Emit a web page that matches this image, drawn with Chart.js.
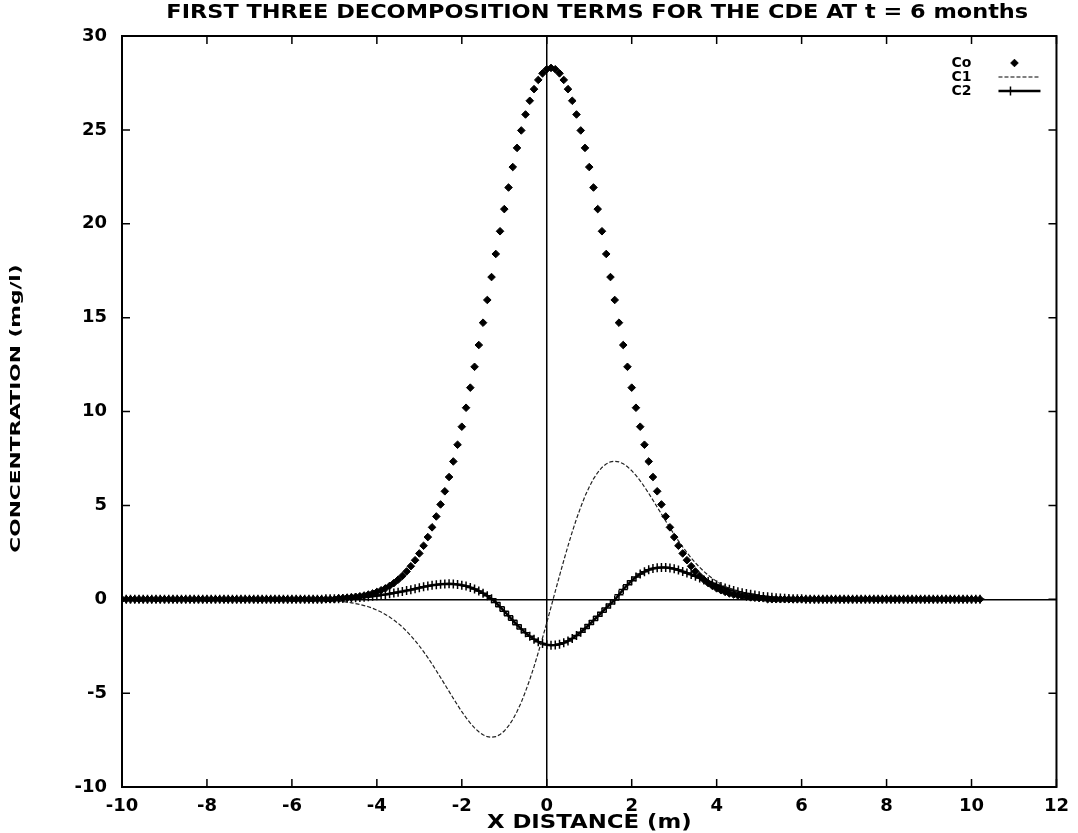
<!DOCTYPE html>
<html>
<head>
<meta charset="utf-8">
<script src="https://cdn.jsdelivr.net/npm/chart.js@4.4.0/dist/chart.umd.min.js"></script>
<style>
  html, body { margin: 0; padding: 0; background: #fff; }
</style>
</head>
<body>
<canvas id="grafico" width="1078" height="833"></canvas>
<script>
const ctxGrafico = document.getElementById("grafico");

// ===================================================================
// DADOS
// ===================================================================

const titulo = "FIRST THREE DECOMPOSITION TERMS FOR THE CDE AT t = 6 months";
const tituloX = "X DISTANCE (m)";
const tituloY = "CONCENTRATION (mg/l)";
const nomesSeries = ["Co", "C1", "C2"];

const ticksX = [-10, -8, -6, -4, -2, 0, 2, 4, 6, 8, 10, 12];
const ticksY = [-10, -5, 0, 5, 10, 15, 20, 25, 30];

const xDistancia = [
  -10, -9.9, -9.8, -9.7, -9.6, -9.5, -9.4, -9.3, -9.2, -9.1,
  -9, -8.9, -8.8, -8.7, -8.6, -8.5, -8.4, -8.3, -8.2, -8.1,
  -8, -7.9, -7.8, -7.7, -7.6, -7.5, -7.4, -7.3, -7.2, -7.1,
  -7, -6.9, -6.8, -6.7, -6.6, -6.5, -6.4, -6.3, -6.2, -6.1,
  -6, -5.9, -5.8, -5.7, -5.6, -5.5, -5.4, -5.3, -5.2, -5.1,
  -5, -4.9, -4.8, -4.7, -4.6, -4.5, -4.4, -4.3, -4.2, -4.1,
  -4, -3.9, -3.8, -3.7, -3.6, -3.5, -3.4, -3.3, -3.2, -3.1,
  -3, -2.9, -2.8, -2.7, -2.6, -2.5, -2.4, -2.3, -2.2, -2.1,
  -2, -1.9, -1.8, -1.7, -1.6, -1.5, -1.4, -1.3, -1.2, -1.1,
  -1, -0.9, -0.8, -0.7, -0.6, -0.5, -0.4, -0.3, -0.2, -0.1,
  0, 0.1, 0.2, 0.3, 0.4, 0.5, 0.6, 0.7, 0.8, 0.9,
  1, 1.1, 1.2, 1.3, 1.4, 1.5, 1.6, 1.7, 1.8, 1.9,
  2, 2.1, 2.2, 2.3, 2.4, 2.5, 2.6, 2.7, 2.8, 2.9,
  3, 3.1, 3.2, 3.3, 3.4, 3.5, 3.6, 3.7, 3.8, 3.9,
  4, 4.1, 4.2, 4.3, 4.4, 4.5, 4.6, 4.7, 4.8, 4.9,
  5, 5.1, 5.2, 5.3, 5.4, 5.5, 5.6, 5.7, 5.8, 5.9,
  6, 6.1, 6.2, 6.3, 6.4, 6.5, 6.6, 6.7, 6.8, 6.9,
  7, 7.1, 7.2, 7.3, 7.4, 7.5, 7.6, 7.7, 7.8, 7.9,
  8, 8.1, 8.2, 8.3, 8.4, 8.5, 8.6, 8.7, 8.8, 8.9,
  9, 9.1, 9.2, 9.3, 9.4, 9.5, 9.6, 9.7, 9.8, 9.9,
  10, 10.1, 10.2,
];

const valoresCo = [
  0, 0, 0, 0, 0, 0, 0, 0, 0, 0,
  0, 0, 0, 0, 0, 0, 0, 0, 0, 0,
  0, 0, 0, 0, 0, 0, 0, 0, 0, 0,
  0, 0, 0, 0, 0, 0, 0, 0, 0, 0,
  0, 0, 0, 0, 0, 0, 0, 0, 0, 0,
  0, 0.05, 0.06, 0.08, 0.10, 0.13, 0.16, 0.20, 0.25, 0.31,
  0.39, 0.48, 0.58, 0.71, 0.86, 1.04, 1.24, 1.48, 1.76, 2.08,
  2.44, 2.85, 3.31, 3.83, 4.41, 5.05, 5.75, 6.51, 7.34, 8.23,
  9.19, 10.20, 11.27, 12.38, 13.54, 14.73, 15.94, 17.16, 18.39, 19.60,
  20.78, 21.93, 23.02, 24.04, 24.97, 25.82, 26.55, 27.17, 27.66, 28.01,
  28.23, 28.30, 28.23, 28.01, 27.66, 27.17, 26.55, 25.82, 24.97, 24.04,
  23.02, 21.93, 20.78, 19.60, 18.39, 17.16, 15.94, 14.73, 13.54, 12.38,
  11.27, 10.20, 9.19, 8.23, 7.34, 6.51, 5.75, 5.05, 4.41, 3.83,
  3.31, 2.85, 2.44, 2.08, 1.76, 1.48, 1.24, 1.04, 0.86, 0.71,
  0.58, 0.48, 0.39, 0.31, 0.25, 0.20, 0.16, 0.13, 0.10, 0.08,
  0.06, 0.05, 0, 0, 0, 0, 0, 0, 0, 0,
  0, 0, 0, 0, 0, 0, 0, 0, 0, 0,
  0, 0, 0, 0, 0, 0, 0, 0, 0, 0,
  0, 0, 0, 0, 0, 0, 0, 0, 0, 0,
  0, 0, 0, 0, 0, 0, 0, 0, 0, 0,
  0, 0, 0,
];

const valoresC1 = [
  0, 0, 0, 0, 0, 0, 0, 0, 0, 0,
  0, 0, 0, 0, 0, 0, 0, 0, 0, 0,
  0, 0, 0, 0, 0, 0, 0, 0, 0, 0,
  0, 0, 0, 0, 0, 0, 0, 0, 0, 0,
  0, 0, 0, 0, 0, 0, 0, 0, 0, 0,
  -0.08, -0.10, -0.12, -0.15, -0.19, -0.23, -0.28, -0.34, -0.40, -0.48,
  -0.58, -0.68, -0.81, -0.95, -1.11, -1.28, -1.48, -1.70, -1.94, -2.20,
  -2.49, -2.79, -3.11, -3.45, -3.81, -4.17, -4.54, -4.91, -5.28, -5.64,
  -5.99, -6.31, -6.60, -6.85, -7.06, -7.22, -7.32, -7.35, -7.32, -7.21,
  -7.02, -6.75, -6.41, -5.98, -5.49, -4.91, -4.28, -3.59, -2.84, -2.06,
  -1.25, -0.42, 0.42, 1.25, 2.06, 2.84, 3.59, 4.28, 4.91, 5.49,
  5.98, 6.41, 6.75, 7.02, 7.21, 7.32, 7.35, 7.32, 7.22, 7.06,
  6.85, 6.60, 6.31, 5.99, 5.64, 5.28, 4.91, 4.54, 4.17, 3.81,
  3.45, 3.11, 2.79, 2.49, 2.20, 1.94, 1.70, 1.48, 1.28, 1.11,
  0.95, 0.81, 0.68, 0.58, 0.48, 0.40, 0.34, 0.28, 0.23, 0.19,
  0.15, 0.12, 0.10, 0.08, 0, 0, 0, 0, 0, 0,
  0, 0, 0, 0, 0, 0, 0, 0, 0, 0,
  0, 0, 0, 0, 0, 0, 0, 0, 0, 0,
  0, 0, 0, 0, 0, 0, 0, 0, 0, 0,
  0, 0, 0, 0, 0, 0, 0, 0, 0, 0,
  0, 0, 0,
];

const valoresC2 = [
  0, 0, 0, 0, 0, 0, 0, 0, 0, 0,
  0, 0, 0, 0, 0, 0, 0, 0, 0, 0,
  0, 0, 0, 0, 0, 0, 0, 0, 0, 0,
  0, 0, 0, 0, 0, 0, 0, 0, 0, 0,
  0, 0, 0, 0, 0, 0, 0, 0, 0.02, 0.02,
  0.03, 0.03, 0.04, 0.05, 0.06, 0.08, 0.09, 0.11, 0.13, 0.16,
  0.19, 0.22, 0.25, 0.29, 0.33, 0.37, 0.41, 0.46, 0.51, 0.56,
  0.61, 0.66, 0.70, 0.74, 0.77, 0.80, 0.81, 0.82, 0.81, 0.79,
  0.75, 0.70, 0.63, 0.54, 0.44, 0.32, 0.18, 0.03, -0.17, -0.40,
  -0.64, -0.88, -1.12, -1.36, -1.58, -1.79, -1.97, -2.13, -2.26, -2.36,
  -2.42, -2.45, -2.44, -2.40, -2.32, -2.22, -2.09, -1.93, -1.76, -1.56,
  -1.35, -1.13, -0.91, -0.69, -0.46, -0.25, -0.04, 0.24, 0.52, 0.77,
  0.99, 1.18, 1.34, 1.47, 1.57, 1.64, 1.68, 1.69, 1.69, 1.66,
  1.62, 1.56, 1.48, 1.40, 1.32, 1.22, 1.13, 1.03, 0.94, 0.85,
  0.76, 0.68, 0.60, 0.53, 0.46, 0.40, 0.35, 0.30, 0.26, 0.22,
  0.18, 0.15, 0.13, 0.10, 0.08, 0.07, 0.05, 0.04, 0.03, 0.02,
  0.02, 0, 0, 0, 0, 0, 0, 0, 0, 0,
  0, 0, 0, 0, 0, 0, 0, 0, 0, 0,
  0, 0, 0, 0, 0, 0, 0, 0, 0, 0,
  0, 0, 0, 0, 0, 0, 0, 0, 0, 0,
  0, 0, 0,
];

// ===================================================================
// FUNÇÕES
// ===================================================================

const fonte = "DejaVu Sans";

function montarPontos(valores) {
  return xDistancia.map((x, i) => ({ x: x, y: valores[i] }));
}

function corZero(c) {
  return c.tick && c.tick.value === 0 ? "#000" : "rgba(0,0,0,0)";
}

// a fonte do gnuplot é mais larga que a DejaVu: estica na horizontal
function textoLargo(ctx, texto, x, y, angulo, esticar) {
  ctx.save();
  ctx.translate(x, y);
  ctx.rotate(angulo);
  ctx.scale(esticar, 1);
  ctx.fillText(texto, 0, 0);
  ctx.restore();
}

// moldura, marcas internas, títulos e legenda no estilo gnuplot
const pluginMoldura = {
  id: "moldura",
  afterDatasetsDraw(chart) {
    const { ctx, chartArea: a, scales } = chart;
    ctx.save();
    ctx.strokeStyle = "#000";
    ctx.lineWidth = 2;
    ctx.strokeRect(a.left, a.top, a.right - a.left, a.bottom - a.top);

    ctx.lineWidth = 1.5;
    ctx.beginPath();
    ticksX.forEach((v) => {
      const px = scales.x.getPixelForValue(v);
      ctx.moveTo(px, a.bottom);
      ctx.lineTo(px, a.bottom - 8);
      ctx.moveTo(px, a.top);
      ctx.lineTo(px, a.top + 8);
    });
    ticksY.forEach((v) => {
      const py = scales.y.getPixelForValue(v);
      ctx.moveTo(a.left, py);
      ctx.lineTo(a.left + 8, py);
      ctx.moveTo(a.right, py);
      ctx.lineTo(a.right - 8, py);
    });
    ctx.stroke();

    // títulos
    ctx.fillStyle = "#000";
    ctx.textAlign = "center";
    ctx.textBaseline = "middle";
    ctx.font = "bold 19px " + fonte;
    textoLargo(ctx, titulo, (a.left + a.right) / 2 + 8, 13, 0, 1.18);
    textoLargo(ctx, tituloX, (a.left + a.right) / 2, 823, 0, 1.2);
    ctx.font = "bold 14px " + fonte;
    textoLargo(ctx, tituloY, 16, (a.top + a.bottom) / 2 - 3, -Math.PI / 2, 1.55);

    // legenda
    ctx.font = "bold 14px " + fonte;
    ctx.textAlign = "left";
    const linhas = [a.top + 27, a.top + 41, a.top + 55];
    const x0 = a.right - 58;
    const x1 = a.right - 16;
    chart.data.datasets.forEach((ds, i) => {
      const y = linhas[i];
      ctx.fillStyle = "#000";
      ctx.fillText(ds.label, a.right - 105, y);
      ctx.strokeStyle = "#000";
      if (ds.showLine !== false) {
        ctx.lineWidth = ds.borderWidth;
        ctx.setLineDash(ds.borderDash || []);
        ctx.beginPath();
        ctx.moveTo(x0, y);
        ctx.lineTo(x1, y);
        ctx.stroke();
        ctx.setLineDash([]);
      }
      if (ds.pointRadius > 0) {
        const xm = ds.showLine === false ? a.right - 42 : a.right - 46;
        ctx.lineWidth = ds.pointBorderWidth || 1;
        Chart.helpers.drawPoint(ctx, {
          pointStyle: ds.pointStyle,
          radius: ds.pointRadius,
          borderWidth: ds.pointBorderWidth || 1,
          rotation: 0,
        }, xm, y);
      }
    });
    ctx.restore();
  },
};

function gerarGrafico() {
  return new Chart(ctxGrafico, {
    type: "scatter",
    data: {
      datasets: [
        {
          label: nomesSeries[0],
          data: montarPontos(valoresCo),
          showLine: false,
          pointStyle: "rectRot",
          pointRadius: 3.8,
          pointBorderWidth: 1,
          backgroundColor: "#000",
          borderColor: "#000",
        },
        {
          label: nomesSeries[1],
          data: montarPontos(valoresC1),
          showLine: true,
          borderColor: "#222",
          borderWidth: 1.2,
          borderDash: [4, 2],
          pointRadius: 0,
        },
        {
          label: nomesSeries[2],
          data: montarPontos(valoresC2),
          showLine: true,
          borderColor: "#000",
          backgroundColor: "#000",
          borderWidth: 2.5,
          pointStyle: "cross",
          pointRadius: 4.5,
          pointBorderWidth: 1.5,
        },
      ],
    },
    options: {
      responsive: false,
      animation: false,
      devicePixelRatio: 1,
      layout: { padding: { left: 0, right: 18, top: 36, bottom: 0 } },
      plugins: {
        legend: { display: false },
        title: { display: false },
        tooltip: { enabled: false },
      },
      scales: {
        x: {
          type: "linear",
          min: -10,
          max: 12,
          afterBuildTicks: (s) => { s.ticks = ticksX.map((v) => ({ value: v })); },
          afterFit: (s) => { s.height = 46; },
          border: { display: false },
          grid: { color: corZero, lineWidth: 1.5, drawTicks: false },
          ticks: {
            color: "#000",
            padding: 9,
            maxRotation: 0,
            font: { size: 18, weight: "bold", family: fonte },
          },
        },
        y: {
          type: "linear",
          min: -10,
          max: 30,
          afterBuildTicks: (s) => { s.ticks = ticksY.map((v) => ({ value: v })); },
          afterFit: (s) => { s.width = 122; },
          border: { display: false },
          grid: { color: corZero, lineWidth: 1.5, drawTicks: false },
          ticks: {
            color: "#000",
            padding: 15,
            font: { size: 18, weight: "bold", family: fonte },
          },
        },
      },
    },
    plugins: [pluginMoldura],
  });
}

gerarGrafico();
</script>
</body>
</html>
